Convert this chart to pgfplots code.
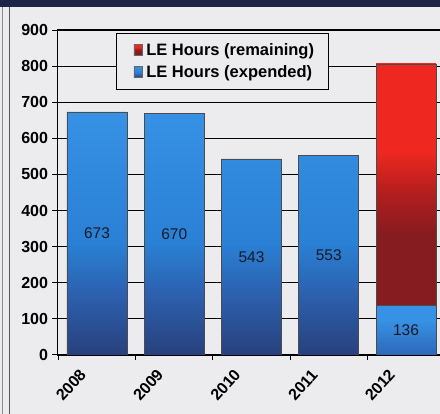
\documentclass[border=0pt]{standalone}
\usepackage{pgfplots}
\pgfplotsset{compat=1.18}
\usepackage{fontspec}
\setmainfont{Liberation Sans}
\definecolor{bgc}{RGB}{236,236,238}
\definecolor{navyband}{RGB}{30,36,72}
\definecolor{bdark}{RGB}{40,64,125}
\definecolor{bmid}{RGB}{44,95,172}
\definecolor{blight}{RGB}{42,128,212}
\definecolor{btop}{RGB}{55,145,228}
\definecolor{bsd}{RGB}{45,104,184}
\definecolor{rdark}{RGB}{135,28,32}
\definecolor{rmid}{RGB}{180,30,30}
\definecolor{rtop}{RGB}{238,40,32}
\definecolor{labc}{RGB}{25,25,40}
\pgfdeclareverticalshading{bluebar}{100bp}{color(0bp)=(bdark); color(25bp)=(bdark); color(37bp)=(bmid); color(48bp)=(blight); color(75bp)=(btop); color(100bp)=(btop)}
\pgfdeclareverticalshading{bluesmall}{100bp}{color(0bp)=(bsd); color(25bp)=(bsd); color(60bp)=(btop); color(100bp)=(btop)}
\pgfdeclareverticalshading{redbar}{100bp}{color(0bp)=(rdark); color(25bp)=(rdark); color(46bp)=(rdark); color(53bp)=(rmid); color(60bp)=(rtop); color(100bp)=(rtop)}
\begin{document}
\begin{tikzpicture}[x=1pt,y=1pt]
\fill[bgc] (-57.5,-59) rectangle (382.5,355);
\fill[navyband] (-57.5,348) rectangle (382.5,355);
\draw[black!45, line width=1pt] (-54.8,-59) -- (-54.8,348);
\draw[black!65, line width=1.5pt] (-48,-59) -- (-48,348);
\begin{axis}[
  scale only axis, width=382.5pt, height=325pt,
  xmin=-0.511, xmax=4.44, ymin=0, ymax=900,
  axis x line*=bottom, axis y line*=left,
  axis line style={black, line width=1.2pt},
  ytick={0,100,...,900},
  ymajorgrids, grid style={black, line width=1.2pt},
  xtick={-0.5,0.5,1.5,2.5,3.5},
  xticklabels={2008,2009,2010,2011,2012},
  tick align=outside, major tick length=5pt,
  tick style={black, line width=1pt},
  /pgf/number format/assume math mode=true,
  tick label style={font=\fontsize{16}{18}\selectfont\bfseries, text=black},
  yticklabel style={xshift=-1pt},
  xticklabel style={xshift=20pt, yshift=-3pt, rotate=48, anchor=north east, font=\fontsize{16}{18}\selectfont\bfseries},
  legend style={at={(0.153,0.991)}, anchor=north west, draw=black, line width=1pt, fill=bgc,
    font=\fontsize{16.5}{19}\selectfont\bfseries, inner xsep=12pt, inner ysep=8pt, row sep=5pt},
  legend cell align=left,
]
\addplot[ybar, bar width=60pt, bar shift=0pt, shading=redbar, draw=black!70, line width=0.8pt,
  legend image code/.code={\draw[fill=rtop, draw=black!60, line width=0.6pt] (5pt,-5pt) rectangle (13pt,6pt); \path (0pt,0pt) (15pt,0pt);}]
  coordinates {(4,806)};
\addlegendentry{LE Hours (remaining)}
\addplot[ybar, bar width=60pt, bar shift=0pt, shading=bluebar, draw=black!70, line width=0.8pt,
  legend image code/.code={\draw[fill=btop, draw=black!60, line width=0.6pt] (5pt,-5pt) rectangle (13pt,6pt); \path (0pt,0pt) (15pt,0pt);}]
  coordinates {(0,673) (1,670) (2,543) (3,553)};
\addlegendentry{LE Hours (expended)}
\addplot[ybar, bar width=60pt, bar shift=0pt, shading=bluesmall, draw=black!70, line width=0.8pt, forget plot]
  coordinates {(4,136)};
\addplot[only marks, mark=*, mark size=0pt, mark options={draw=none, fill=none}, forget plot,
  point meta=explicit symbolic, nodes near coords,
  nodes near coords style={anchor=center, text=labc, font=\fontsize{15.5}{18}\selectfont}]
  table[meta=lab] {
x y lab
0 336.5 673
1 335 670
2 271.5 543
3 276.5 553
4 68 136
};
\end{axis}
\pgfresetboundingbox
\useasboundingbox (-57.5,-59) rectangle (382.5,355);
\end{tikzpicture}
\end{document}
